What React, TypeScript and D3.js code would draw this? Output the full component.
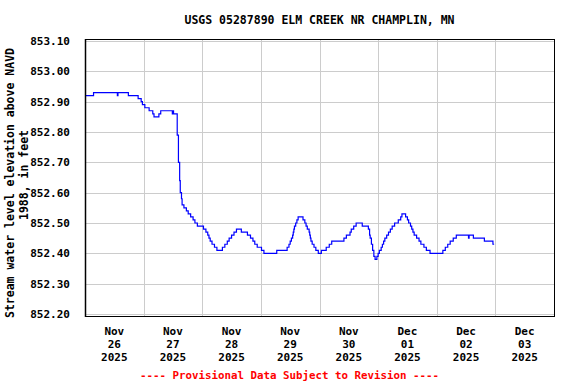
import React from 'react';
import * as d3 from 'd3';

// hours after 2025-11-26 00:00, with the gage height read at that time
const hours = [
  0.25, 3.5, 13.25, 13.5, 17.75, 21.75, 23.0, 23.5, 24.5, 26.25, 27.75, 28.25, 30.25, 31.0, 35.75, 36.0, 36.25,
  37.75, 38.25, 38.75, 39.0, 39.5, 39.75, 40.5, 41.5, 42.25, 43.25, 44.25, 45.0, 46.0, 48.5, 49.5, 50.25,
  50.75, 51.25, 52.0, 53.0, 54.0, 56.25, 57.25, 58.25, 59.0, 60.0, 61.0, 62.0, 64.0, 66.5, 67.75, 68.75,
  69.5, 70.5, 72.25, 73.25, 78.5, 82.75, 83.5, 84.0, 84.5, 85.0, 85.25, 85.5, 85.75, 86.25, 86.75, 87.25,
  89.25, 90.0, 90.5, 91.0, 91.75, 92.0, 92.25, 92.5, 93.0, 93.75, 94.5, 95.5, 96.75, 98.75, 100.0, 101.0,
  106.0, 107.0, 108.5, 109.0, 110.0, 111.0, 113.5, 116.0, 116.5, 116.75, 117.25, 117.75, 118.25, 118.75,
  119.5, 120.0, 120.5, 121.25, 121.75, 122.25, 122.75, 123.5, 124.25, 125.0, 125.75, 126.75, 128.25,
  129.25, 129.75, 131.25, 132.0, 132.5, 133.25, 133.75, 134.25, 134.75, 135.75, 136.75, 137.5, 138.75,
  139.75, 141.25, 146.5, 147.5, 148.5, 149.5, 150.75, 152.0, 157.0, 157.25, 159.0, 163.5, 167.0, 167.5,
];
const levels = [
  852.92, 852.93, 852.92, 852.93, 852.92, 852.91, 852.9, 852.89, 852.88, 852.87, 852.86, 852.85, 852.86, 852.87, 852.86, 852.87, 852.86,
  852.79, 852.7, 852.64, 852.6, 852.58, 852.56, 852.55, 852.54, 852.53, 852.52, 852.51, 852.5, 852.49, 852.48, 852.47, 852.46,
  852.45, 852.44, 852.43, 852.42, 852.41, 852.42, 852.43, 852.44, 852.45, 852.46, 852.47, 852.48, 852.47, 852.46, 852.45, 852.44,
  852.43, 852.42, 852.41, 852.4, 852.41, 852.42, 852.43, 852.44, 852.45, 852.46, 852.47, 852.48, 852.49, 852.5, 852.51, 852.52,
  852.51, 852.5, 852.49, 852.48, 852.47, 852.46, 852.45, 852.44, 852.43, 852.42, 852.41, 852.4, 852.41, 852.42, 852.43, 852.44,
  852.45, 852.46, 852.47, 852.48, 852.49, 852.5, 852.49, 852.48, 852.46, 852.45, 852.43, 852.41, 852.39, 852.38,
  852.39, 852.4, 852.41, 852.42, 852.43, 852.44, 852.45, 852.46, 852.47, 852.48, 852.49, 852.5, 852.51,
  852.52, 852.53, 852.52, 852.51, 852.5, 852.49, 852.48, 852.47, 852.46, 852.45, 852.44, 852.43, 852.42,
  852.41, 852.4, 852.41, 852.42, 852.43, 852.44, 852.45, 852.46, 852.45, 852.46, 852.45, 852.44, 852.43, 852.43,
];
const yTicks = [852.2, 852.3, 852.4, 852.5, 852.6, 852.7, 852.8, 852.9, 853.0, 853.1];

const title = 'USGS 05287890 ELM CREEK NR CHAMPLIN, MN';
const yLabel = ['Stream water level elevation above NAVD', '1988, in feet'];
const footer = '---- Provisional Data Subject to Revision ----';

const W = 576;
const H = 384;
const font = "'DejaVu Sans Mono', monospace";

const start = new Date(2025, 10, 26);
const end = new Date(2025, 11, 4);

export default function App() {
  const x = d3.scaleTime().domain([start, end]).range([85, 554]);
  const y = d3.scaleLinear().domain([852.2, 853.1]).range([314, 41]);

  const points = hours.map((h, i) => ({ t: new Date(start.getTime() + h * 3600e3), v: levels[i] }));
  const line = d3
    .line<{ t: Date; v: number }>()
    .x(d => x(d.t))
    .y(d => y(d.v))
    .curve(d3.curveStepAfter);

  const days = d3.timeDay.range(start, end);
  const top = y.range()[1] - 2;
  const bottom = y.range()[0] + 2;
  const [left, right] = x.range();

  return (
    <div style={{ position: 'absolute', left: 0, top: 0 }}>
      <svg width={W} height={H} style={{ display: 'block', background: '#fff' }}>
        <text x={(left + right) / 2} y={24} textAnchor="middle" fontFamily={font} fontWeight="bold" fontSize={11.5}>
          {title}
        </text>

        {/* grid */}
        {days.slice(1).map(d => (
          <line key={+d} x1={Math.round(x(d)) + 0.5} x2={Math.round(x(d)) + 0.5} y1={top} y2={bottom} stroke="#cccccc" />
        ))}
        {yTicks.map(v => (
          <line key={v} x1={left} x2={right} y1={Math.round(y(v)) + 0.5} y2={Math.round(y(v)) + 0.5} stroke="#cccccc" />
        ))}

        <path d={line(points) ?? ''} fill="none" stroke="#0000ff" strokeWidth={1.2} />

        <rect x={left + 0.5} y={top + 0.5} width={right - left} height={bottom - top} fill="none" stroke="#000" strokeWidth={1} />
        <line x1={left + 0.5} x2={left + 0.5} y1={top} y2={bottom + 1} stroke="#000" strokeWidth={1.5} />

        {/* y tick labels */}
        {yTicks.map(v => (
          <text key={v} x={70} y={y(v) + 4} textAnchor="end" fontFamily={font} fontWeight="bold" fontSize={11}>
            {d3.format('.2f')(v)}
          </text>
        ))}

        {/* x labels at noon of each day */}
        {days.map(d => {
          const cx = x(d3.timeHour.offset(d, 12));
          return (
            <text key={+d} textAnchor="middle" fontFamily={font} fontWeight="bold" fontSize={11}>
              <tspan x={cx} y={335}>{d3.timeFormat('%b')(d)}</tspan>
              <tspan x={cx} y={348}>{d3.timeFormat('%d')(d)}</tspan>
              <tspan x={cx} y={361}>{d3.timeFormat('%Y')(d)}</tspan>
            </text>
          );
        })}

        <text transform="translate(14,183) rotate(-90)" textAnchor="middle" fontFamily={font} fontWeight="bold" fontSize={11.5}>
          {yLabel[0]}
        </text>
        <text transform="translate(28,175) rotate(-90)" textAnchor="middle" fontFamily={font} fontWeight="bold" fontSize={11.5}>
          {yLabel[1]}
        </text>

        <text x={(left + right) / 2 - 30} y={379} textAnchor="middle" fontFamily={font} fontWeight="bold" fontSize={10.8} fill="#ff0000">
          {footer}
        </text>
      </svg>
    </div>
  );
}
